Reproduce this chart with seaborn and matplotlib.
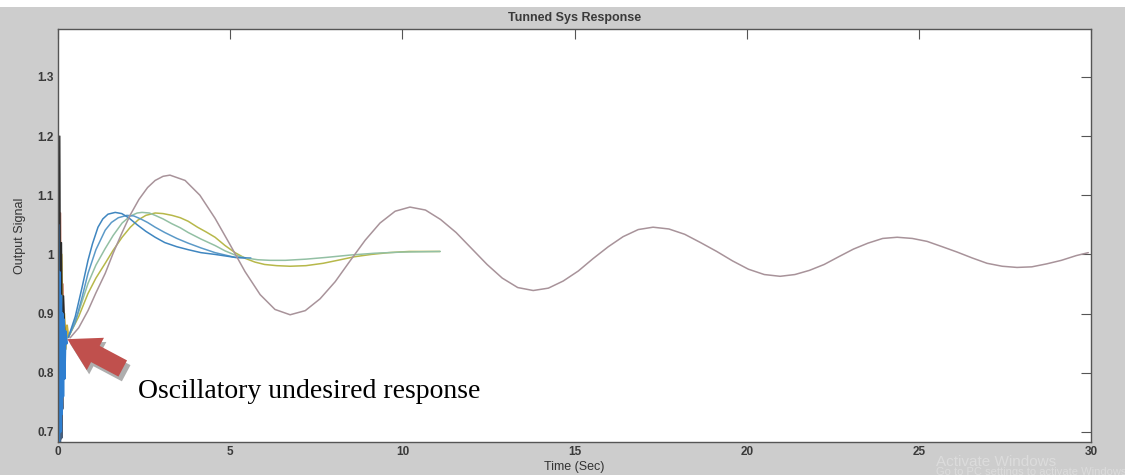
import numpy as np
import pandas as pd
import matplotlib
matplotlib.use("Agg")
import matplotlib.pyplot as plt
import seaborn as sns
from matplotlib.patches import Rectangle

# ---- data ----
# long lightly damped response (mauve)
t_slow = [0.35, 0.6, 0.87, 1.1, 1.37, 1.6, 1.86, 2.09, 2.35, 2.6, 2.82, 3.05, 3.25,
          3.69, 4.12, 4.56, 5.0, 5.43, 5.87, 6.30, 6.74,
          7.18, 7.61, 8.05, 8.48, 8.92, 9.35, 9.79, 10.22,
          10.67, 11.11, 11.56, 12.01, 12.46, 12.90, 13.35, 13.80,
          14.24, 14.67, 15.11, 15.54, 15.98, 16.41, 16.85, 17.28,
          17.74, 18.20, 18.66, 19.13, 19.59, 20.05, 20.51, 20.97,
          21.40, 21.82, 22.25, 22.67, 23.10, 23.52, 23.95, 24.37,
          24.81, 25.24, 25.68, 26.11, 26.55, 26.98, 27.42, 27.85,
          28.28, 28.71, 29.14, 29.57, 29.92]
y_slow = [0.859, 0.876, 0.905, 0.935, 0.968, 1.002, 1.037, 1.066, 1.093, 1.113, 1.125, 1.132, 1.134,
          1.125, 1.100, 1.061, 1.016, 0.971, 0.932, 0.907, 0.898,
          0.905, 0.925, 0.954, 0.989, 1.024, 1.053, 1.073, 1.080,
          1.075, 1.059, 1.037, 1.010, 0.983, 0.960, 0.944, 0.939,
          0.943, 0.955, 0.972, 0.993, 1.013, 1.030, 1.042, 1.046,
          1.043, 1.034, 1.020, 1.005, 0.989, 0.975, 0.966, 0.963,
          0.966, 0.973, 0.983, 0.996, 1.009, 1.019, 1.027, 1.029,
          1.027, 1.022, 1.013, 1.004, 0.994, 0.985, 0.980, 0.978,
          0.979, 0.984, 0.990, 0.998, 1.003]

# tuned responses
t_blue1 = [0.30, 0.5, 0.7, 0.87, 1.0, 1.16, 1.3, 1.45, 1.66, 1.85, 2.05, 2.3, 2.55, 2.82, 3.1,
           3.45, 3.78, 4.15, 4.56, 5.14, 5.45]
y_blue1 = [0.860, 0.895, 0.945, 0.990, 1.018, 1.046, 1.060, 1.068, 1.071, 1.069, 1.062, 1.050,
           1.039, 1.029, 1.020, 1.013, 1.008, 1.003, 1.000, 0.995, 0.994]
t_blue2 = [0.30, 0.5, 0.7, 0.87, 1.1, 1.37, 1.55, 1.75, 2.0, 2.2, 2.4, 2.6, 2.82, 3.1, 3.45, 3.78,
           4.15, 4.56, 5.14, 5.6]
y_blue2 = [0.860, 0.885, 0.928, 0.968, 1.008, 1.041, 1.054, 1.062, 1.066, 1.065, 1.060, 1.054,
           1.046, 1.037, 1.027, 1.019, 1.011, 1.003, 0.995, 0.994]
t_green = [0.30, 0.6, 0.87, 1.1, 1.37, 1.6, 1.86, 2.1, 2.3, 2.44, 2.65, 2.82, 3.05, 3.3, 3.55,
           3.78, 4.15, 4.56, 4.85, 5.14, 5.45, 5.8, 6.16, 6.6, 7.2, 7.8, 8.5, 9.2, 10.0, 11.1]
y_green = [0.860, 0.903, 0.951, 0.982, 1.010, 1.032, 1.053, 1.065, 1.070, 1.071, 1.070, 1.066,
           1.060, 1.052, 1.045, 1.037, 1.026, 1.015, 1.006, 0.999, 0.994, 0.991, 0.990, 0.990,
           0.992, 0.995, 0.999, 1.002, 1.004, 1.005]
t_olive = [0.30, 0.6, 0.87, 1.1, 1.37, 1.6, 1.86, 2.1, 2.32, 2.55, 2.82, 3.05, 3.31, 3.55, 3.78,
           4.05, 4.3, 4.56, 4.85, 5.14, 5.45, 5.72, 6.0, 6.35, 6.74, 7.2, 7.7, 8.2, 8.6, 9.1, 9.6,
           10.2, 11.09]
y_olive = [0.860, 0.895, 0.934, 0.960, 0.985, 1.007, 1.029, 1.046, 1.058, 1.066, 1.070, 1.069,
           1.066, 1.062, 1.056, 1.046, 1.038, 1.029, 1.015, 1.003, 0.993, 0.987, 0.983, 0.981,
           0.980, 0.981, 0.985, 0.991, 0.996, 1.000, 1.003, 1.005, 1.005]

# oscillatory start (undesired responses near t = 0)
t_sp_dark = [0.00, 0.03, 0.05, 0.08, 0.10, 0.13, 0.16, 0.20]
y_sp_dark = [1.27, 0.70, 1.20, 0.72, 1.02, 0.80, 0.93, 0.86]
t_sp_salmon = [0.00, 0.04, 0.07, 0.10, 0.14, 0.18, 0.22]
y_sp_salmon = [1.13, 0.78, 1.07, 0.81, 0.95, 0.84, 0.87]
t_sp_yellow = [0.02, 0.06, 0.10, 0.14, 0.18, 0.22, 0.26, 0.30]
y_sp_yellow = [1.09, 0.82, 1.00, 0.83, 0.90, 0.84, 0.88, 0.86]
t_sp_blue = [0.00, 0.02, 0.04, 0.06, 0.08, 0.10, 0.12, 0.14, 0.16, 0.18, 0.21, 0.25]
y_sp_blue = [1.05, 0.68, 0.97, 0.70, 0.93, 0.73, 0.90, 0.76, 0.89, 0.79, 0.87, 0.85]
t_sp_slate = [0.02, 0.04, 0.06, 0.08, 0.10, 0.12]
y_sp_slate = [0.94, 0.68, 0.93, 0.69, 0.90, 0.74]

x_ticks = [0, 5, 10, 15, 20, 25, 30]
y_ticks = [0.7, 0.8, 0.9, 1.0, 1.1, 1.2, 1.3]
y_tick_labels = ["0.7", "0.8", "0.9", "1", "1.1", "1.2", "1.3"]

sns.set_theme(style="white")
plt.rcParams['font.family'] = ['Liberation Sans', 'DejaVu Sans']

fig = plt.figure(figsize=(11.25, 4.75), dpi=100)
fig.patch.set_facecolor('#cdcdcd')
fig.patches.append(Rectangle((0, 0.985), 1, 0.015, transform=fig.transFigure,
                             facecolor='white', edgecolor='none', zorder=0))
ax = fig.add_axes([0.0516, 0.0695, 0.9182, 0.8695])
ax.set_facecolor('white')

spikes = [
    (t_sp_salmon, y_sp_salmon, '#c27a6a', 1.2),
    (t_sp_yellow, y_sp_yellow, '#c9b03a', 1.5),
    (t_sp_dark, y_sp_dark, '#2a2a2a', 1.0),
    (t_sp_slate, y_sp_slate, '#4a5f7a', 2.5),
    (t_sp_blue, y_sp_blue, '#2f7fd0', 2.0),
]
for t, y, c, lw in spikes:
    sns.lineplot(x=t, y=y, ax=ax, color=c, linewidth=lw, sort=False, estimator=None)

curves = [
    (t_olive, y_olive, '#b7b84a'),
    (t_green, y_green, '#93c0a4'),
    (t_blue2, y_blue2, '#5c9ac8'),
    (t_blue1, y_blue1, '#3f86c0'),
    (t_slow, y_slow, '#a8939a'),
]
for t, y, c in curves:
    df = pd.DataFrame({'t': t, 'y': y})
    sns.lineplot(data=df, x='t', y='y', ax=ax, color=c, linewidth=1.1, sort=False, estimator=None)

ax.set_xlim(0, 30)
ax.set_ylim(0.683, 1.381)
ax.set_xticks(x_ticks)
ax.set_xticklabels([str(v) for v in x_ticks])
ax.set_yticks(y_ticks)
ax.set_yticklabels(y_tick_labels)
ax.tick_params(direction='in', length=7, width=0.8, color='#555555', top=True, right=True,
               labelsize=8.5, labelcolor='#3a3a3a', pad=3)
for lab in ax.get_xticklabels() + ax.get_yticklabels():
    lab.set_fontweight('bold')
for s in ax.spines.values():
    s.set_color('#555555')
    s.set_linewidth(1.0)

ax.set_title('Tunned Sys Response', fontsize=9, fontweight='bold', color='#3a3a3a', pad=6)
ax.set_xlabel('Time (Sec)', fontsize=9, color='#333333', labelpad=2)
ax.set_ylabel('Output Signal', fontsize=9, color='#333333', labelpad=8)

# annotation arrow with shadow
style = 'simple,head_width=2.2,head_length=1.9,tail_width=1.1'
ax.annotate('', xy=(0.27, 0.852), xytext=(2.05, 0.797),
            arrowprops=dict(arrowstyle=style, mutation_scale=12, fc='#8c8c8c', ec='none', alpha=0.7))
ax.annotate('', xy=(0.2, 0.859), xytext=(1.95, 0.805),
            arrowprops=dict(arrowstyle=style, mutation_scale=12, fc='#c0504d', ec='none'))
ax.text(2.32, 0.768, 'Oscillatory undesired response', fontsize=20,
        family=['Liberation Serif', 'DejaVu Serif'], color='black', va='center', ha='left')

# screen watermark visible in the capture
fig.text(0.832, 0.028, 'Activate Windows', fontsize=11, color='#dcdcdc', ha='left', va='center')
fig.text(0.832, 0.006, 'Go to PC settings to activate Windows', fontsize=8, color='#dcdcdc',
         ha='left', va='center')

fig.savefig('out.png', dpi=100, facecolor=fig.get_facecolor())
